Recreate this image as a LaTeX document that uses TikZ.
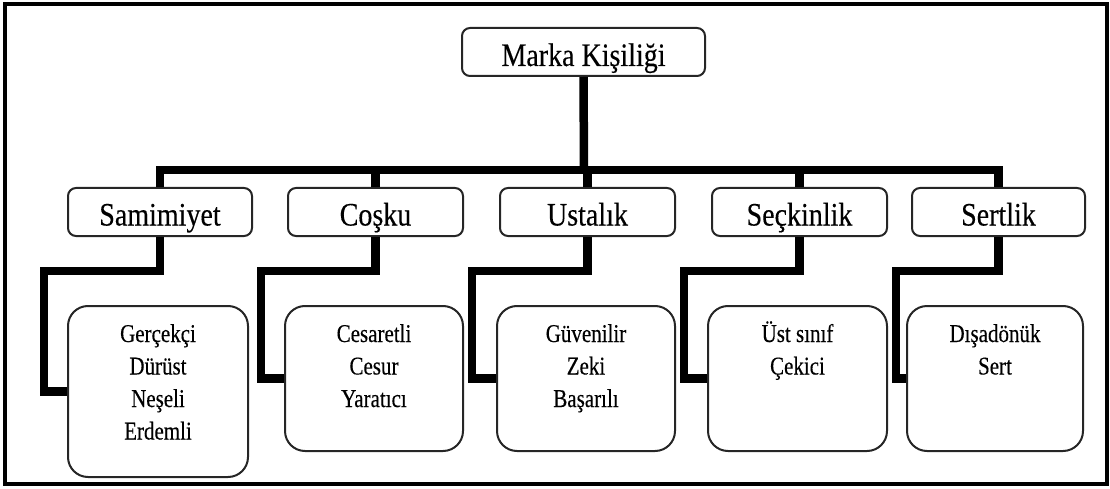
\documentclass[tikz,border=0pt]{standalone}
\usepackage{fontspec}
\setmainfont{Liberation Serif}
\newfontfamily\heavyserif[FakeBold=0.3]{Liberation Serif}
\usepackage{graphicx}
\newcommand{\tl}[1]{\scalebox{1}[1.17]{#1}}
\newcommand{\ti}[1]{\scalebox{1}[1.22]{#1}}
\begin{document}
\begin{tikzpicture}[x=1pt,y=-1pt,
  conn/.style={line width=8.5pt, line join=miter, line cap=butt},
  topbox/.style={draw=black!85, line width=2pt, rounded corners=8pt, minimum height=48pt, inner sep=0pt},
  botbox/.style={draw=black!85, line width=2pt, rounded corners=20pt, inner sep=0pt},
  lab/.style={anchor=base, inner sep=0pt, font=\heavyserif\fontsize{28}{32}\selectfont},
  item/.style={anchor=base, inner sep=0pt, font=\heavyserif\fontsize{21}{25}\selectfont}]
\useasboundingbox (0,0) rectangle (1110,489);
\draw[line width=4.5pt] (5,4) rectangle (1107,484);

% top box
\node[topbox, minimum width=243pt] (m) at (583.5,52) {};
\node[lab] (mt) at (583.5,66) {\tl{Marka Kişiliği}};

% second level
\node[topbox, minimum width=184pt] (s1) at (160,212) {};
\node[topbox, minimum width=175pt] (s2) at (375.5,212) {};
\node[topbox, minimum width=175pt] (s3) at (587.5,212) {};
\node[topbox, minimum width=175pt] (s4) at (799.5,212) {};
\node[topbox, minimum width=173pt] (s5) at (998.5,212) {};
\node[lab] (l1) at (160,225.5) {\tl{Samimiyet}};
\node[lab] (l2) at (375.5,225.5) {\tl{Coşku}};
\node[lab] (l3) at (587.5,225.5) {\tl{Ustalık}};
\node[lab] (l4) at (799.5,225.5) {\tl{Seçkinlik}};
\node[lab] (l5) at (998.5,225.5) {\tl{Sertlik}};

% bottom boxes
\node[botbox, minimum width=180pt, minimum height=171pt] (b1) at (158,391.5) {};
\node[botbox, minimum width=178pt, minimum height=145pt] (b2) at (374,378.5) {};
\node[botbox, minimum width=178pt, minimum height=145pt] (b3) at (586,378.5) {};
\node[botbox, minimum width=179pt, minimum height=145pt] (b4) at (797.5,378.5) {};
\node[botbox, minimum width=176pt, minimum height=145pt] (b5) at (995,378.5) {};

\foreach \t [count=\j] in {Gerçekçi,Dürüst,Neşeli,Erdemli}
  \node[item] (ta-\j) at (158,{342+32.5*(\j-1)}) {\ti{\t}};
\foreach \t [count=\j] in {Cesaretli,Cesur,Yaratıcı}
  \node[item] (tb-\j) at (374,{342+32.5*(\j-1)}) {\ti{\t}};
\foreach \t [count=\j] in {Güvenilir,Zeki,Başarılı}
  \node[item] (tc-\j) at (586,{342+32.5*(\j-1)}) {\ti{\t}};
\foreach \t [count=\j] in {Üst sınıf,Çekici}
  \node[item] (td-\j) at (797.5,{342+32.5*(\j-1)}) {\ti{\t}};
\foreach \t [count=\j] in {Dışadönük,Sert}
  \node[item] (te-\j) at (995,{342+32.5*(\j-1)}) {\ti{\t}};

% connectors
\coordinate (bar) at (584,170);
\draw[conn] (m.south) -- (bar);
\draw[conn] (s1.north) |- (bar) -| (s5.north);
\foreach \i in {2,3,4}
  \draw[conn] (s\i.north |- bar) -- (s\i.north);

\coordinate (k1) at (44,271);
\coordinate (k2) at (261,271);
\coordinate (k3) at (472,271);
\coordinate (k4) at (684,271);
\coordinate (k5) at (896,271);
\foreach \i in {1,...,5}
  \draw[conn] (s\i.south) |- (k\i) |- (b\i.west);
\end{tikzpicture}
\end{document}
